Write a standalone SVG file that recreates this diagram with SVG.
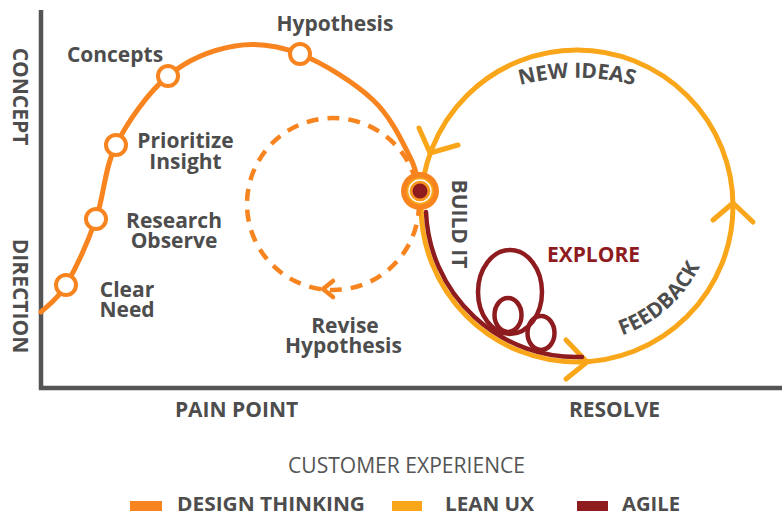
<svg xmlns="http://www.w3.org/2000/svg" width="782" height="516" viewBox="0 0 782 516">
<style>
.t{font-family:"Open Sans","Liberation Sans",sans-serif;font-weight:700;fill:#4D4D4D;font-size:21px}
.m{text-anchor:middle}
.ring{fill:#fff;stroke:#F7841F;stroke-width:4}
.dt{fill:none;stroke:#F7841F;stroke-width:5;stroke-linecap:round}
.lux{fill:none;stroke:#F9A61A;stroke-width:5;stroke-linecap:round;stroke-linejoin:round}
.ag{fill:none;stroke:#8E1C1F;stroke-width:4.5;stroke-linecap:round}
.lg{font-size:20px}
</style>
<defs>
<path id="pNew" d="M487,97 A220,220 0 0 1 667,97"/>
<path id="pFb" d="M596.1,341.7 A137,137 0 0 0 709.3,241.5"/>
</defs>
<rect width="782" height="516" fill="#fff"/>
<g id="axes">
<path d="M41,10 V388 H782" fill="none" stroke="#555" stroke-width="4.5"/>
<text class="t m" transform="translate(20,96.5) rotate(90)" y="7.5" font-size="20">CONCEPT</text>
<text class="t m" transform="translate(20,296) rotate(90)" y="7.5" font-size="20">DIRECTION</text>
<text class="t m" x="236.5" y="417">PAIN POINT</text>
<text class="t m" x="614.5" y="417">RESOLVE</text>
</g>
<g id="connectors">
<circle cx="577" cy="206" r="156" class="lux"/>
<polyline class="lux" points="419,128 430,153 458,145"/>
<polyline class="lux" points="713,220 733,203 753,222"/>
<polyline class="lux" points="566,340 587,362 566,379"/>
<circle cx="333" cy="204" r="86" fill="none" stroke="#F7841F" stroke-width="4.5" stroke-dasharray="12 9"/>
<polyline fill="none" stroke="#F7841F" stroke-width="4.5" stroke-linecap="round" stroke-linejoin="round" points="333,281 323,289 333,297"/>
<path class="dt" d="M41,312 C45.2,307.5 56.8,300.5 66,285 C75.2,269.5 87.7,242.3 96,219 C104.3,195.7 104,168.8 116,145 C128,121.2 148.2,92.5 168,76 C187.8,59.5 213,49.7 235,46 C257,42.3 277,45 300,54 C323,63 354.7,82.8 373,100 C391.3,117.2 402.2,141.8 410,157 C417.8,172.2 418.3,185.3 420,191"/>
<path class="ag" d="M426,212 A151,151 0 0 0 582,357"/>
<ellipse class="ag" cx="510" cy="292" rx="32" ry="42"/>
<ellipse class="ag" cx="508" cy="315" rx="13.5" ry="17"/>
<ellipse class="ag" cx="541" cy="333" rx="13.5" ry="17"/>
</g>
<g id="node-clear-need">
<circle class="ring" cx="66" cy="285" r="10"/>
<text class="t m"><tspan x="127" y="297">Clear</tspan><tspan x="127" y="317">Need</tspan></text>
</g>
<g id="node-research">
<circle class="ring" cx="96" cy="219" r="10"/>
<text class="t m"><tspan x="174" y="228">Research</tspan><tspan x="174" y="248">Observe</tspan></text>
</g>
<g id="node-prioritize">
<circle class="ring" cx="116" cy="145" r="10"/>
<text class="t m"><tspan x="185.5" y="148">Prioritize</tspan><tspan x="185.5" y="169">Insight</tspan></text>
</g>
<g id="node-concepts">
<circle class="ring" cx="168" cy="76" r="10"/>
<text class="t m" x="115" y="62">Concepts</text>
</g>
<g id="node-hypothesis">
<circle class="ring" cx="300" cy="54" r="10"/>
<text class="t m" x="335" y="31">Hypothesis</text>
</g>
<g id="node-revise">
<text class="t m"><tspan x="345" y="333">Revise</tspan><tspan x="343.5" y="353">Hypothesis</tspan></text>
</g>
<g id="node-build">
<circle cx="420" cy="191" r="19" fill="#F7841F"/>
<circle cx="420" cy="191" r="13.5" fill="#F9A61A"/>
<circle cx="420" cy="191" r="11" fill="#F7941E" stroke="#fff" stroke-width="1.3"/>
<circle cx="420" cy="191" r="7.5" fill="#8E1C1F"/>
<text class="t m" transform="translate(459,224) rotate(90)" y="7.5">BUILD IT</text>
</g>
<g id="node-explore">
<text class="t m" x="593.5" y="262" style="fill:#8E1C1F">EXPLORE</text>
</g>
<g id="node-new-ideas">
<text class="t"><textPath href="#pNew" startOffset="50%" text-anchor="middle">NEW IDEAS</textPath></text>
</g>
<g id="node-feedback">
<text class="t"><textPath href="#pFb" startOffset="50%" text-anchor="middle">FEEDBACK</textPath></text>
</g>
<g id="legend">
<text x="406.5" y="473" text-anchor="middle" font-family="'Open Sans','Liberation Sans',sans-serif" font-size="21" fill="#555" textLength="237" lengthAdjust="spacingAndGlyphs">CUSTOMER EXPERIENCE</text>
<rect x="130" y="501" width="32" height="10" fill="#F7841F"/>
<text class="t lg" x="177" y="511" textLength="188" lengthAdjust="spacingAndGlyphs">DESIGN THINKING</text>
<rect x="392" y="501" width="30" height="10" fill="#F9A61A"/>
<text class="t lg" x="445" y="511" textLength="89" lengthAdjust="spacingAndGlyphs">LEAN UX</text>
<rect x="577" y="501" width="31" height="10" fill="#8E1C1F"/>
<text class="t lg" x="622" y="511" textLength="58" lengthAdjust="spacingAndGlyphs">AGILE</text>
</g>
</svg>
